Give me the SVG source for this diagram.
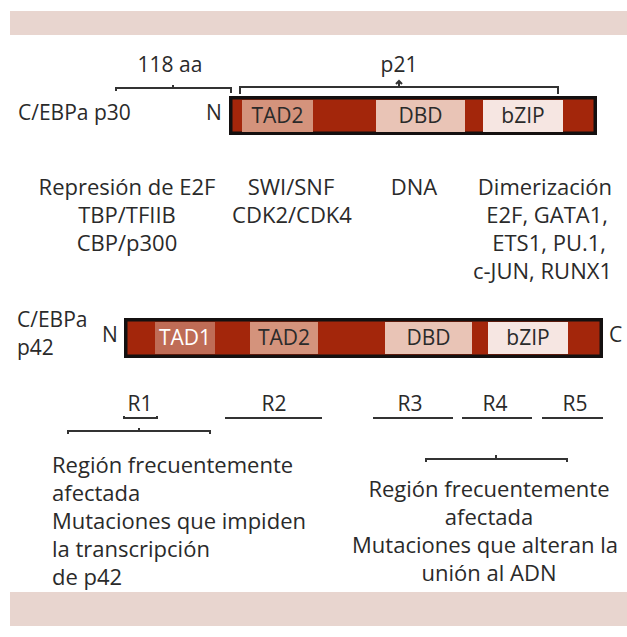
<svg xmlns="http://www.w3.org/2000/svg" width="627" height="637" viewBox="0 0 627 637">
<style>
text{font-family:"Open Sans",Lato,"Liberation Sans",sans-serif;font-size:22px;fill:#2a2a2a}
.c{text-anchor:middle}
.e{text-anchor:end}
.s{font-size:21px}
.bar{fill:#a3260b;stroke:#141010;stroke-width:3.5}
.tad1{fill:#bf6c56}
.tad2{fill:#d4937c}
.dbd{fill:#e9c4b6}
.bzip{fill:#f6e6e2}
.ln{fill:none;stroke:#333;stroke-width:2}
.band{fill:#e8d5cf}
</style>
<rect class="band" x="10" y="11" width="617" height="24"/>
<rect class="band" x="10" y="592" width="617" height="34"/>

<g id="connectors">
<path class="ln" d="M116,91 V88 H231 V93 M173,88 V85"/>
<path class="ln" stroke="#555" d="M240,94 V87 H558 V94 M399,87 V81 M396,84 L399,81 L402,84"/>
<path class="ln" d="M124,416 V418 H157 V416"/>
<path class="ln" d="M68,434 V431 H210 V434 M139,431 V428"/>
<path class="ln" d="M225,418 H322"/>
<path class="ln" d="M373,418 H453"/>
<path class="ln" d="M462,418 H532"/>
<path class="ln" d="M542,418 H603"/>
<path class="ln" d="M426,462 V459 H567 V462 M496,459 V455"/>
</g>

<g id="labels-top">
<text class="c s" x="170" y="72">118 aa</text>
<text class="c s" x="399" y="72">p21</text>
</g>

<g id="p30">
<text class="s" x="18" y="120">C/EBPa p30</text>
<text class="s" x="206" y="120">N</text>
<rect class="bar" x="230.75" y="97.75" width="364.5" height="35.5"/>
<rect class="tad2" x="242" y="100" width="71" height="32"/>
<rect class="dbd" x="376" y="100" width="89" height="32"/>
<rect class="bzip" x="483" y="100" width="80" height="32"/>
<text class="c s" x="277.5" y="123">TAD2</text>
<text class="c s" x="420.5" y="123">DBD</text>
<text class="c s" x="523" y="123">bZIP</text>
</g>

<g id="functions">
<text class="c" x="127" y="195">Represión de E2F</text>
<text class="c" x="127" y="223">TBP/TFIIB</text>
<text class="c" x="127" y="251">CBP/p300</text>
<text class="c" x="291" y="195">SWI/SNF</text>
<text class="c" x="292" y="223">CDK2/CDK4</text>
<text class="c" x="414" y="195">DNA</text>
<text class="e" x="612" y="195">Dimerización</text>
<text class="e" x="608" y="223">E2F, GATA1,</text>
<text class="e" x="606" y="251">ETS1, PU.1,</text>
<text class="e" x="612" y="279">c-JUN, RUNX1</text>
</g>

<g id="p42">
<text class="s" x="17" y="327">C/EBPa</text>
<text class="s" x="17" y="355">p42</text>
<text class="s" x="102" y="342">N</text>
<rect class="bar" x="125.75" y="319.75" width="475.5" height="36.5"/>
<rect class="tad1" x="155" y="322" width="60" height="32"/>
<rect class="tad2" x="250" y="322" width="68" height="32"/>
<rect class="dbd" x="385" y="322" width="87" height="32"/>
<rect class="bzip" x="488" y="322" width="80" height="32"/>
<text class="c s" x="185" y="345" style="fill:#fff">TAD1</text>
<text class="c s" x="284" y="345">TAD2</text>
<text class="c s" x="428.5" y="345">DBD</text>
<text class="c s" x="528" y="345">bZIP</text>
<text class="s" x="609" y="342">C</text>
</g>

<g id="regions">
<text class="c s" x="140" y="411">R1</text>
<text class="c s" x="274" y="411">R2</text>
<text class="c s" x="410" y="411">R3</text>
<text class="c s" x="495" y="411">R4</text>
<text class="c s" x="575" y="411">R5</text>
</g>

<g id="note-left">
<text x="52" y="473">Región frecuentemente</text>
<text x="52" y="501">afectada</text>
<text x="52" y="529">Mutaciones que impiden</text>
<text x="52" y="557">la transcripción</text>
<text x="52" y="585">de p42</text>
</g>

<g id="note-right">
<text class="c" x="489" y="497">Región frecuentemente</text>
<text class="c" x="489" y="525">afectada</text>
<text class="c" x="485" y="553">Mutaciones que alteran la</text>
<text class="c" x="489" y="581">unión al ADN</text>
</g>
</svg>
